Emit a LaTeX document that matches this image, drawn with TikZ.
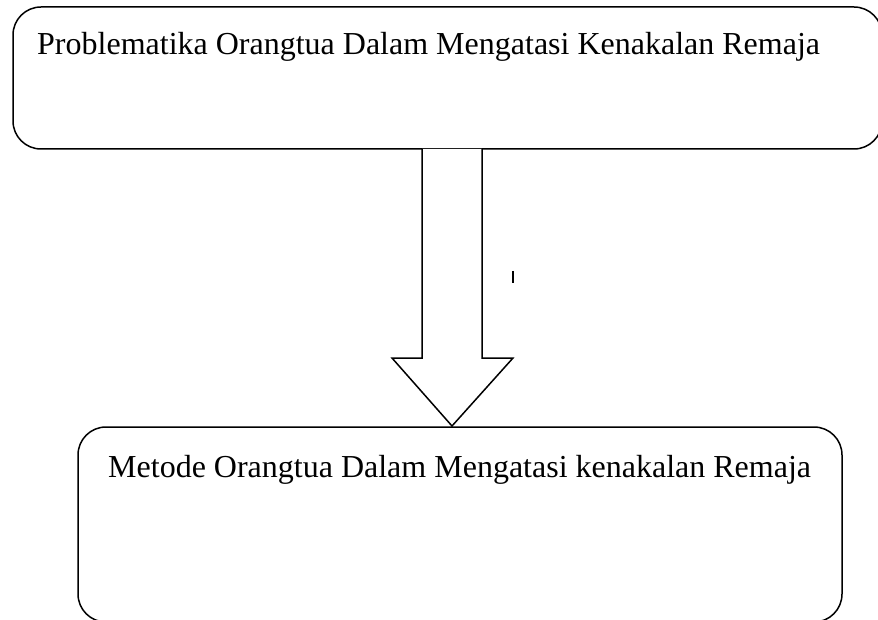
\documentclass[tikz,border=0pt]{standalone}
\usepackage{fontspec}
\setmainfont{Liberation Serif}
\begin{document}
\begin{tikzpicture}[x=1pt,y=-1pt,
  box/.style={draw=black,line width=1.5pt,rounded corners=28pt},
  lbl/.style={anchor=base west,inner sep=0pt,font=\fontsize{32}{38}\selectfont}]
\useasboundingbox (0,0) rectangle (878,620);
\clip (0,0) rectangle (878,620);
\draw[box] (13,7) rectangle (882,149);
\draw[box] (78,427) rectangle (842,622);
\node[lbl] (t1) at (37,55) {Problematika Orangtua Dalam Mengatasi Kenakalan Remaja};
\node[lbl] (t2) at (108,477) {Metode Orangtua Dalam Mengatasi kenakalan Remaja};
\draw[line width=1.5pt,line join=miter,fill=white]
  (422,149) -- (422,358) -- (392,358) -- (452,426) -- (513,358) -- (482,358) -- (482,149);
\draw[line width=1.4pt] (513,271) -- (513,283);
\end{tikzpicture}
\end{document}
